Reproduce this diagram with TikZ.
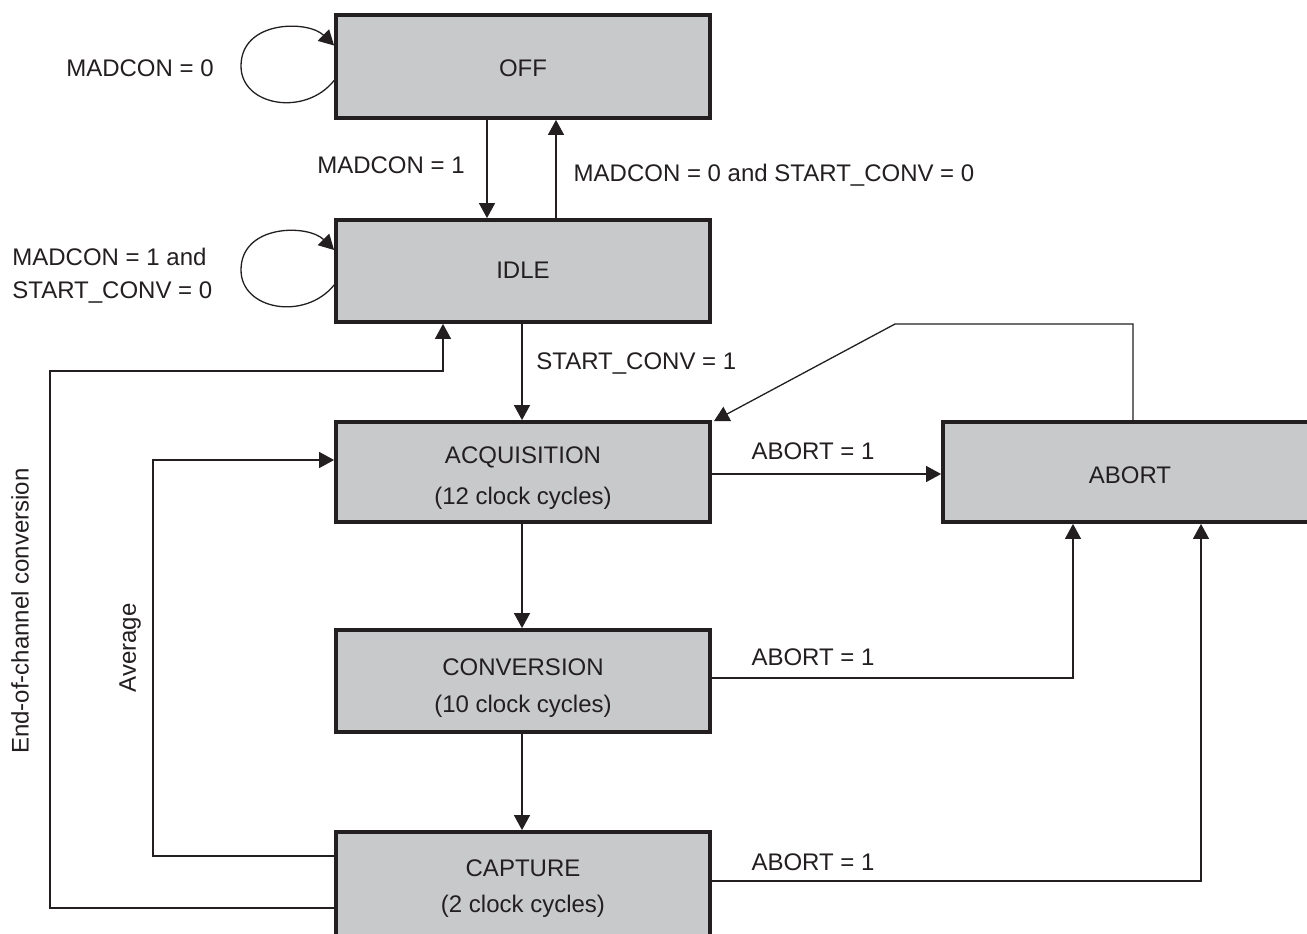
\documentclass[tikz,border=0pt]{standalone}
\usepackage{fontspec}
\setmainfont{Liberation Sans}
\usetikzlibrary{arrows.meta}
\definecolor{boxgray}{RGB}{200,201,203}
\definecolor{ink}{RGB}{35,31,32}
\tikzset{
  statebox/.style={draw=ink, fill=boxgray, line width=1.9pt, minimum width=187pt, inner sep=0pt},
  boxtext/.style={align=center, text=ink, inner sep=0pt},
  conn/.style={draw=ink, line width=0.65pt, -{Triangle[length=7.5pt,width=8pt]}},
  lbl/.style={text=ink, font=\fontsize{12}{17.5}\selectfont, inner sep=0pt}
}
\begin{document}
\begin{tikzpicture}[x=0.5pt,y=-0.5pt]
\useasboundingbox (0,0) rectangle (1307,933);
\clip (0,0) rectangle (1307,933);
\fill[white] (0,0) rectangle (1307,933);

% states
\node[statebox, minimum height=51.5pt,
  label={[boxtext, yshift=-1pt, font=\fontsize{12}{19.5}\selectfont]center:OFF}] (off) at (523,66.5) {};
\node[statebox, minimum height=51pt,
  label={[boxtext, yshift=0.5pt, font=\fontsize{12}{19.5}\selectfont]center:IDLE}] (idle) at (523,271) {};
\node[statebox, minimum height=50pt,
  label={[boxtext, yshift=-3pt, font=\fontsize{12}{20.5}\selectfont]center:ACQUISITION\\(12 clock cycles)}] (acq) at (523,472) {};
\node[statebox, minimum height=51pt,
  label={[boxtext, yshift=-3.5pt, font=\fontsize{12}{18.5}\selectfont]center:CONVERSION\\(10 clock cycles)}] (conv) at (523,681) {};
\node[statebox, minimum height=54pt,
  label={[boxtext, yshift=-1.5pt, font=\fontsize{12}{18}\selectfont]center:CAPTURE\\(2 clock cycles)}] (capt) at (523,886) {};
\node[statebox, minimum height=50pt,
  label={[boxtext, yshift=-1.5pt, font=\fontsize{12}{19.5}\selectfont]center:ABORT}] (abort) at (1130,472) {};

% bend coordinates
\coordinate (e1) at (50,908);
\coordinate (e2) at (50,371);
\coordinate (e3) at (443,371);
\coordinate (a1) at (153,856);
\coordinate (a2) at (153,460);
\coordinate (b1) at (1133,324);
\coordinate (b2) at (895,324);
\coordinate (b3) at (714,421);
\coordinate (c1) at (1073,678);
\coordinate (d1) at (1201,881);
\coordinate (xo1) at (487,0);
\coordinate (xo2) at (556,0);
\coordinate (xi) at (522,0);
\coordinate (ya) at (0,474);

% self loops
\draw[conn] ([yshift=-7pt]off.west) .. controls (305,117) and (241,106) .. (241,66) .. controls (241,20) and (308,20) .. ([yshift=10.5pt]off.west);
\draw[conn] ([yshift=-7pt]idle.west) .. controls (305,321) and (241,310) .. (241,270) .. controls (241,224) and (308,224) .. ([yshift=10.5pt]idle.west);

% vertical transitions
\draw[conn] (off.south -| xo1) -- (idle.north -| xo1);
\draw[conn] (idle.north -| xo2) -- (off.south -| xo2);
\draw[conn] (idle.south -| xi) -- (acq.north -| xi);
\draw[conn] (acq.south -| xi) -- (conv.north -| xi);
\draw[conn] (conv.south -| xi) -- (capt.north -| xi);

% loops back
\draw[conn] (capt.west |- e1) -- (e1) -- (e2) -- (e3) -- (idle.south -| e3);
\draw[conn] (capt.west |- a1) -- (a1) -- (a2) -- (acq.west |- a2);

% abort transitions
\draw[conn] (acq.east |- ya) -- (abort.west |- ya);
\draw[conn] (abort.north -| b1) -- (b1) -- (b2) -- (b3);
\draw[conn] (conv.east |- c1) -- (c1) -- (abort.south -| c1);
\draw[conn] (capt.east |- d1) -- (d1) -- (abort.south -| d1);

% labels
\node[lbl] (l1) at (140,68) {MADCON = 0};
\node[lbl] (l2) at (391,165) {MADCON = 1};
\node[lbl] (l3) at (774,175) {MADCON = 0 and START\_CONV = 0};
\node[lbl, anchor=west] (l4) at (12,257) {MADCON = 1 and};
\node[lbl, anchor=west] (l5) at (12,292) {START\_CONV = 0};
\node[lbl, anchor=west] (l6) at (536,363) {START\_CONV = 1};
\node[lbl] (l7) at (813,451) {ABORT = 1};
\node[lbl] (l8) at (813,657) {ABORT = 1};
\node[lbl] (l9) at (813,862) {ABORT = 1};
\node[lbl, rotate=90] (l10) at (20,611) {End-of-channel conversion};
\node[lbl, rotate=90] (l11) at (130,648) {Average};
\end{tikzpicture}
\end{document}
